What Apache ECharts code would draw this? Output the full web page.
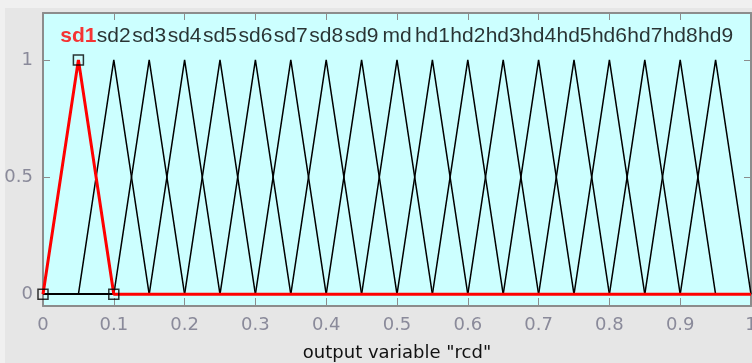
<!DOCTYPE html>
<html>
<head>
<meta charset="utf-8">
<script src="https://cdn.jsdelivr.net/npm/echarts@6/dist/echarts.min.js"></script>
<style>
  html, body { margin: 0; padding: 0; background: #f0f0f0; }
  #chart { width: 752px; height: 363px; }
</style>
</head>
<body>
<div id="chart"></div>
<script>
// membership functions of output variable "rcd" (triangles: a, b, c)
var mfNames = ['sd1', 'sd2', 'sd3', 'sd4', 'sd5', 'sd6', 'sd7', 'sd8', 'sd9', 'md',
    'hd1', 'hd2', 'hd3', 'hd4', 'hd5', 'hd6', 'hd7', 'hd8', 'hd9'];
var mfA = [0, 0.05, 0.1, 0.15, 0.2, 0.25, 0.3, 0.35, 0.4, 0.45,
    0.5, 0.55, 0.6, 0.65, 0.7, 0.75, 0.8, 0.85, 0.9];
var mfB = [0.05, 0.1, 0.15, 0.2, 0.25, 0.3, 0.35, 0.4, 0.45, 0.5,
    0.55, 0.6, 0.65, 0.7, 0.75, 0.8, 0.85, 0.9, 0.95];
var mfC = [0.1, 0.15, 0.2, 0.25, 0.3, 0.35, 0.4, 0.45, 0.5, 0.55,
    0.6, 0.65, 0.7, 0.75, 0.8, 0.85, 0.9, 0.95, 1];
var selected = 0; // sd1 is highlighted
var yTicks = [0, 0.5, 1];

var FONT = 'DejaVu Sans';
var LABEL_FONT = 'Liberation Sans';
var labelY = 1.1;

function mfLine(i) {
    var pts = [];
    if (mfA[i] > 0) pts.push([0, 0]);
    pts.push([mfA[i], 0]);
    pts.push([mfB[i], 1]);
    pts.push([mfC[i], 0]);
    if (mfC[i] < 1) pts.push([1, 0]);
    return pts;
}

var series = [];
for (var i = 0; i < mfNames.length; i++) {
    if (i == selected) continue;
    series.push({
        type: 'line', name: mfNames[i], data: mfLine(i),
        symbol: 'none', silent: true, z: 2,
        lineStyle: { color: '#000', width: 1.5 }
    });
}
series.push({
    type: 'line', name: mfNames[selected], data: mfLine(selected),
    symbol: 'none', silent: true, z: 3,
    lineStyle: { color: '#ff0000', width: 3 }
});
series.push({
    type: 'scatter', name: 'handles', z: 4, silent: true,
    data: [[mfA[selected], 0], [mfB[selected], 1], [mfC[selected], 0]],
    symbol: 'rect', symbolSize: 10,
    itemStyle: { color: 'rgba(0,0,0,0)', borderColor: '#000', borderWidth: 1.5 }
});
var labelData = [];
for (var i = 0; i < mfNames.length; i++) {
    var item = { value: [mfB[i], labelY], name: mfNames[i] };
    if (i == selected) {
        item.label = { color: '#ff0000', fontWeight: 'bold' };
    }
    labelData.push(item);
}
series.push({
    type: 'scatter', name: 'labels', z: 5, silent: true,
    data: labelData, symbolSize: 0,
    label: {
        show: true, position: 'inside', formatter: '{b}',
        color: '#000', fontFamily: LABEL_FONT, fontSize: 21
    }
});

var axisColor = '#8c8c8c';
var myChart = echarts.init(document.getElementById('chart'));
var option = {
    backgroundColor: '#f0f0f0',
    animation: false,
    graphic: [{
        type: 'rect', left: 5, top: 8, z: -10, silent: true,
        shape: { width: 747, height: 355 },
        style: { fill: '#e6e6e6' }
    }],
    grid: {
        left: 43, right: 1, top: 13, bottom: 57,
        outerBoundsMode: 'none', containLabel: false,
        show: true, backgroundColor: '#ccffff', borderWidth: 0
    },
    xAxis: [{
        type: 'value', min: 0, max: 1, interval: 0.1,
        position: 'bottom',
        name: 'output variable "rcd"', nameLocation: 'middle', nameGap: 38,
        nameTextStyle: { color: '#111', fontFamily: FONT, fontSize: 18 },
        axisLine: { show: true, onZero: false, lineStyle: { color: axisColor, width: 2 } },
        axisTick: { show: true, inside: true, length: 8, lineStyle: { color: axisColor } },
        axisLabel: { color: '#8a8a9a', fontFamily: FONT, fontSize: 18, margin: 10 },
        splitLine: { show: false }
    }, {
        type: 'value', min: 0, max: 1, interval: 0.1,
        position: 'top',
        axisLine: { show: true, onZero: false, lineStyle: { color: axisColor, width: 2 } },
        axisTick: { show: true, inside: true, length: 7, lineStyle: { color: axisColor } },
        axisLabel: { show: false },
        splitLine: { show: false }
    }],
    yAxis: [{
        type: 'value', min: -0.05, max: 1.2,
        position: 'left',
        axisLine: { show: true, onZero: false, lineStyle: { color: axisColor, width: 2 } },
        axisTick: { show: true, inside: true, length: 7, customValues: yTicks, lineStyle: { color: axisColor } },
        axisLabel: { color: '#8a8a9a', fontFamily: FONT, fontSize: 18, margin: 10, customValues: yTicks },
        splitLine: { show: false }
    }, {
        type: 'value', min: -0.05, max: 1.2,
        position: 'right',
        axisLine: { show: true, onZero: false, lineStyle: { color: axisColor, width: 2 } },
        axisTick: { show: true, inside: true, length: 7, customValues: yTicks, lineStyle: { color: axisColor } },
        axisLabel: { show: false },
        splitLine: { show: false }
    }],
    series: series
};
myChart.setOption(option);
</script>
</body>
</html>
